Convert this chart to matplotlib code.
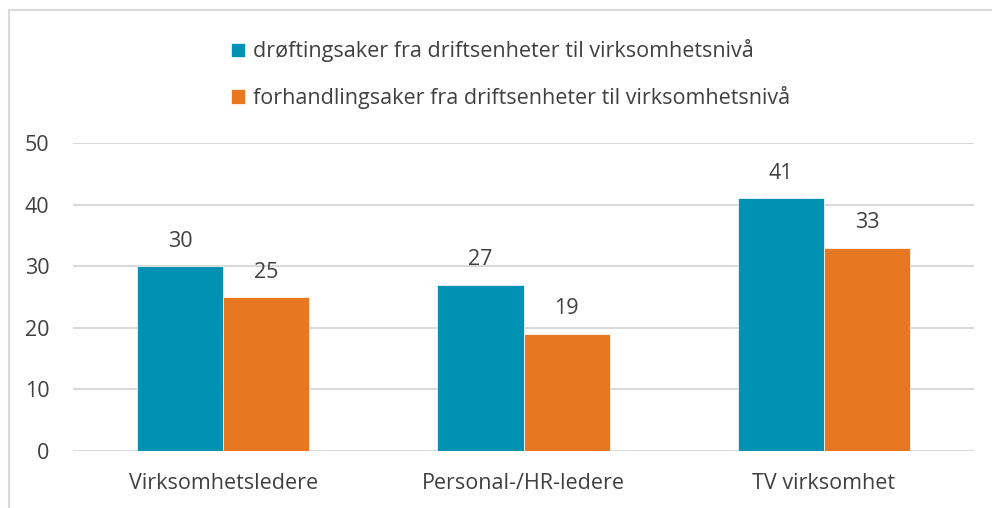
import matplotlib.pyplot as plt
import numpy as np
from matplotlib.patches import Rectangle

categories = ['Virksomhetsledere', 'Personal-/HR-ledere', 'TV virksomhet']
series_names = ['drøftingsaker fra driftsenheter til virksomhetsnivå',
                'forhandlingsaker fra driftsenheter til virksomhetsnivå']
drofting = [30, 27, 41]
forhandling = [25, 19, 33]
colors = ['#0091B3', '#E87722']
text_color = '#404040'

plt.rcParams['font.family'] = ['Open Sans', 'DejaVu Sans']
fs = 15.5

fig = plt.figure(figsize=(9.92, 5.08), dpi=100)
fig.patches.append(Rectangle((9 / 992, -0.1), 1.1, 1 - 10 / 508 + 0.1,
                             transform=fig.transFigure, fill=False,
                             edgecolor='#D9D9D9', linewidth=1.5))
ax = fig.add_axes([73 / 992, 1 - 451 / 508, 901 / 992, 308 / 508])

x = np.arange(len(categories))
w = 0.287
bars = []
for i, (vals, name) in enumerate(zip([drofting, forhandling], series_names)):
    b = ax.bar(x + (i - 0.5) * w, vals, w, color=colors[i], label=name,
               edgecolor='white', linewidth=0.5, zorder=3)
    bars.append(b)
    for xi, v in zip(x + (i - 0.5) * w, vals):
        ax.annotate(str(v), (xi, v), xytext=(0, 18), textcoords='offset points',
                    ha='center', va='center', fontsize=fs, color=text_color)

ax.set_xlim(-0.5, 2.5)
ax.set_ylim(0, 50)
ax.set_yticks(range(0, 51, 10))
ax.set_xticks(x)
ax.set_xticklabels(categories)
ax.grid(axis='y', color='#D9D9D9', linewidth=1.5, zorder=0)
for s in ax.spines.values():
    s.set_visible(False)
ax.tick_params(length=0, labelsize=fs, colors=text_color)
ax.tick_params(axis='y', pad=17)
ax.tick_params(axis='x', pad=16)

fig.legend(handles=bars, labels=series_names, loc='upper left',
           bbox_to_anchor=(212 / 992, 1 - 20 / 508), frameon=False,
           fontsize=fs, labelcolor=text_color, handlelength=0.65,
           handleheight=0.65, handletextpad=0.35, labelspacing=1.1)

plt.savefig('out.png', dpi=100)
